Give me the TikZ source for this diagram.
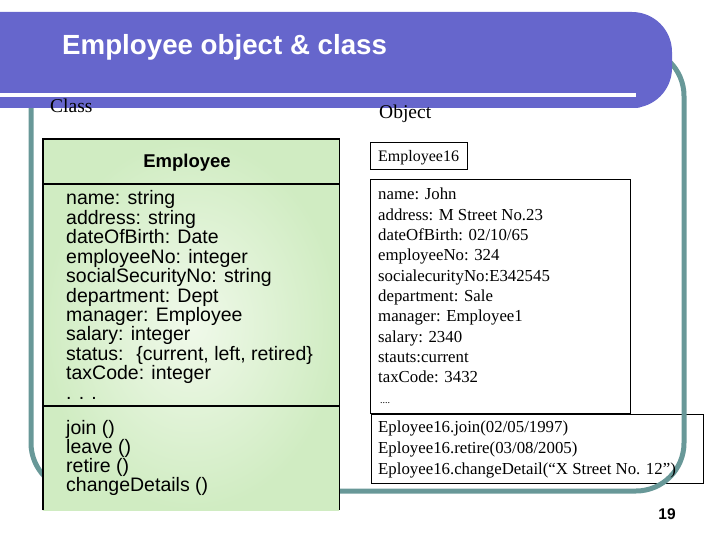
\documentclass[tikz,border=0pt]{standalone}
\usepackage{fontspec}
\setmainfont{Liberation Serif}
\setsansfont{Liberation Sans}
\definecolor{bannerblue}{RGB}{102,102,204}
\definecolor{frameteal}{RGB}{104,152,152}
\definecolor{boxinner}{RGB}{240,249,234}
\definecolor{boxouter}{RGB}{208,236,194}
\begin{document}
\begin{tikzpicture}[x=1pt,y=-1pt,
  clsline/.style={anchor=base west, inner sep=0, font=\sffamily\fontsize{19.5}{19.5}\selectfont},
  objline/.style={anchor=base west, inner sep=0, font=\fontsize{16.8}{20}\selectfont},
  plainbox/.style={draw, line width=1pt, inner sep=0, anchor=north west}]
\useasboundingbox (0,0) rectangle (720,540);

% methods box of the object (under the frame)
\node[plainbox, fill=white, minimum width=332pt, minimum height=69pt] (meth) at (371,414) {};

% teal frame
\draw[frameteal, line width=5pt, rounded corners=48pt] (31,48) rectangle (684,491);

% class box
\node[inner sep=0, anchor=north west, minimum width=296pt, minimum height=371pt,
      shading=radial, inner color=boxinner, outer color=boxouter] (cls) at (43,139) {};
\draw[line width=1.3pt] (cls.south west) -- (cls.north west) -- (cls.north east) -- (cls.south east);
\coordinate (h1) at (43,184); \coordinate (h2) at (339,184);
\coordinate (s1) at (43,406); \coordinate (s2) at (339,406);
\draw[line width=1.3pt] (h1) -- (h2);
\draw[line width=1.3pt] (s1) -- (s2);

% banner
\fill[bannerblue] (0,12) -- (600,12) [rounded corners=40pt] -- (672,12) -- (672,108) -- (600,108) [sharp corners] -- (0,108) -- cycle;
\fill[white] (0,93.5) rectangle (636,97.5);
\node[anchor=base west, inner sep=0, text=white, font=\sffamily\bfseries\fontsize{27.7}{30}\selectfont] (title) at (62,55) {Employee object \& class};

% headings
\node[anchor=base west, inner sep=0, font=\fontsize{19.5}{20}\selectfont] (classlbl) at (50,113) {Class};
\node[anchor=base west, inner sep=0, font=\fontsize{19.5}{20}\selectfont] (objlbl) at (379,119) {Object};

% class content
\node[anchor=base, inner sep=0, font=\sffamily\bfseries\fontsize{18.5}{20}\selectfont] (clsname) at (187,168) {Employee};
\node[clsline] (a1) at (66,205) {name: string};
\node[clsline] (a2) at (66,224.4) {address: string};
\node[clsline] (a3) at (66,243.8) {dateOfBirth: Date};
\node[clsline] (a4) at (66,263.2) {employeeNo: integer};
\node[clsline] (a5) at (66,282.6) {socialSecurityNo: string};
\node[clsline] (a6) at (66,302) {department: Dept};
\node[clsline] (a7) at (66,321.4) {manager: Employee};
\node[clsline] (a8) at (66,340.8) {salary: integer};
\node[clsline] (a9) at (66,360.2) {status:~ \{current, left, retired\}};
\node[clsline] (a10) at (66,379.6) {taxCode: integer};
\node[clsline] (a11) at (66,399) {. . .};
\node[clsline] (m1) at (66,434) {join ()};
\node[clsline] (m2) at (66,453) {leave ()};
\node[clsline] (m3) at (66,472) {retire ()};
\node[clsline] (m4) at (66,491) {changeDetails ()};

% object boxes
\node[plainbox, minimum width=97pt, minimum height=27pt] (objname) at (370,142) {};
\node[objline, font=\fontsize{16}{20}\selectfont] (on) at (378,162) {Employee16};
\node[plainbox, minimum width=260pt, minimum height=234pt] (attr) at (370,179) {};
\node[objline] (b1) at (378,200) {name: John};
\node[objline] (b2) at (378,220.3) {address: M Street No.23};
\node[objline] (b3) at (378,240.6) {dateOfBirth: 02/10/65};
\node[objline] (b4) at (378,260.9) {employeeNo: 324};
\node[objline] (b5) at (378,281.2) {socialecurityNo:E342545};
\node[objline] (b6) at (378,301.5) {department: Sale};
\node[objline] (b7) at (378,321.8) {manager: Employee1};
\node[objline] (b8) at (378,342.1) {salary: 2340};
\node[objline] (b9) at (378,362.4) {stauts:current};
\node[objline] (b10) at (378,382.7) {taxCode: 3432};
\node[objline, font=\fontsize{10}{12}\selectfont] (b11) at (380,403) {....};
\node[objline] (c1) at (378,432) {Eployee16.join(02/05/1997)};
\node[objline] (c2) at (378,453) {Eployee16.retire(03/08/2005)};
\node[objline] (c3) at (378,474) {Eployee16.changeDetail(“X Street No. 12”)};

% page number
\node[anchor=base, inner sep=0, font=\sffamily\bfseries\fontsize{15.5}{18}\selectfont] (pg) at (667,519) {19};
\end{tikzpicture}
\end{document}
